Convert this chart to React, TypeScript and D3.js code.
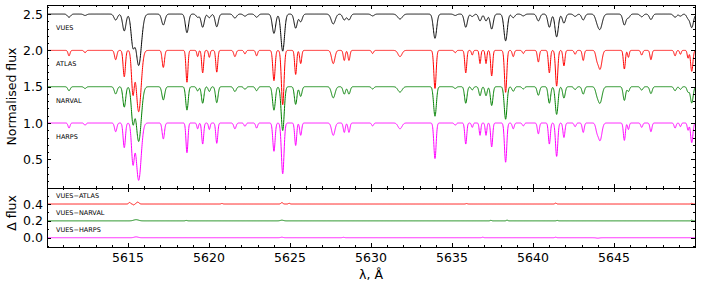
import React, { useRef, useEffect } from 'react';
import * as d3 from 'd3';

// wavelength axis
const LAMBDA_DOMAIN = [5610, 5650];
const LAMBDA_TICKS = [5615, 5620, 5625, 5630, 5635, 5640, 5645];
const FLUX_TICKS = [0.5, 1.0, 1.5, 2.0, 2.5];
const DIFF_TICKS = [0.0, 0.2, 0.4];

// absorption lines: [centre (Å), depth, sigma (Å)]
const LINES = [
  [5611.36, 0.07, 0.06], [5612.35, 0.03, 0.06], [5614.24, 0.12, 0.07],
  [5614.77, 0.34, 0.07], [5615.31, 0.56, 0.09], [5615.66, 0.79, 0.15],
  [5617.18, 0.22, 0.07], [5618.64, 0.41, 0.06], [5619.30, 0.08, 0.05],
  [5619.61, 0.29, 0.06], [5620.02, 0.09, 0.05], [5620.48, 0.28, 0.06],
  [5621.60, 0.08, 0.07], [5622.22, 0.045, 0.06], [5622.94, 0.07, 0.06],
  [5624.01, 0.39, 0.07], [5624.55, 0.70, 0.08], [5625.35, 0.31, 0.06],
  [5625.66, 0.17, 0.06], [5627.67, 0.17, 0.10], [5628.35, 0.13, 0.06],
  [5628.64, 0.13, 0.06], [5630.10, 0.04, 0.06], [5631.79, 0.08, 0.12],
  [5633.95, 0.49, 0.07], [5635.20, 0.03, 0.06], [5635.85, 0.29, 0.06],
  [5636.25, 0.06, 0.05], [5636.73, 0.17, 0.05], [5637.10, 0.17, 0.05],
  [5637.45, 0.33, 0.06], [5638.31, 0.54, 0.07], [5638.78, 0.08, 0.06],
  [5639.40, 0.04, 0.06], [5640.33, 0.15, 0.06], [5641.01, 0.29, 0.06],
  [5641.46, 0.46, 0.07], [5641.91, 0.20, 0.06], [5642.60, 0.05, 0.06],
  [5643.10, 0.13, 0.06], [5643.95, 0.10, 0.08], [5644.14, 0.24, 0.11],
  [5645.64, 0.24, 0.06], [5645.89, 0.09, 0.05], [5646.71, 0.06, 0.06],
  [5647.28, 0.12, 0.06], [5648.77, 0.07, 0.06], [5649.10, 0.05, 0.05],
  [5649.57, 0.10, 0.05], [5649.80, 0.27, 0.07],
];

// spectra: name, vertical offset, colour, instrumental sigma (Å), depth factor
const SPEC_NAMES = ['VUES', 'ATLAS', 'NARVAL', 'HARPS'];
const SPEC_OFFSETS = [2.5, 2.0, 1.5, 1.0];
const SPEC_COLORS = ['#000000', '#ff0000', '#008000', '#ff00ff'];
const SPEC_INSTR = [0.075, 0.0, 0.047, 0.0];
const SPEC_DEPTH = [1.0, 1.07, 1.0, 1.0];

// differences: name, offset, colour, bumps [centre, amplitude, sigma]
const DIFF_NAMES = ['VUES\u2212ATLAS', 'VUES\u2212NARVAL', 'VUES\u2212HARPS'];
const DIFF_OFFSETS = [0.4, 0.2, 0.0];
const DIFF_COLORS = ['#ff0000', '#008000', '#ff00ff'];
const DIFF_BUMPS = [
  [[5615.1, 0.018, 0.06], [5615.35, -0.01, 0.05], [5615.6, 0.022, 0.08], [5620.8, 0.006, 0.05],
   [5624.5, 0.016, 0.06], [5624.95, 0.008, 0.05], [5635.9, 0.005, 0.05], [5641.4, 0.01, 0.05], [5649.8, 0.008, 0.05]],
  [[5615.5, 0.014, 0.15], [5624.5, 0.008, 0.1], [5618.6, 0.005, 0.06], [5637.4, 0.006, 0.05],
   [5638.4, 0.008, 0.05], [5641.5, 0.005, 0.05], [5649.8, 0.008, 0.05]],
  [[5615.5, 0.01, 0.12], [5624.5, 0.006, 0.08], [5628.3, 0.005, 0.06], [5636.9, 0.006, 0.05],
   [5641.4, 0.006, 0.05], [5644.0, -0.005, 0.1]],
];

const W = 702;
const H = 288;
const LEFT = 47;
const RIGHT = 695;
const TOP1 = 5;
const BOT1 = 188;
const BOT2 = 247;
const FONT = 'DejaVu Sans, sans-serif';

const App = () => {
  const ref = useRef(null);

  useEffect(() => {
    const svg = d3.select(ref.current);
    svg.selectAll('*').remove();

    const x = d3.scaleLinear().domain(LAMBDA_DOMAIN).range([LEFT, RIGHT]);
    const yTop = d3.scaleLinear().domain([0.105, 2.625]).range([BOT1, TOP1]);
    const yBot = d3.scaleLinear().domain([-0.11, 0.59]).range([BOT2, BOT1]);

    const grid = d3.range(LAMBDA_DOMAIN[0], LAMBDA_DOMAIN[1] + 0.0001, 0.01);

    const clipTop = svg.append('clipPath').attr('id', 'clip-top');
    clipTop.append('rect').attr('x', LEFT).attr('y', TOP1).attr('width', RIGHT - LEFT).attr('height', BOT1 - TOP1);
    const clipBot = svg.append('clipPath').attr('id', 'clip-bot');
    clipBot.append('rect').attr('x', LEFT).attr('y', BOT1).attr('width', RIGHT - LEFT).attr('height', BOT2 - BOT1);

    // spectra
    const gTop = svg.append('g').attr('clip-path', 'url(#clip-top)');
    SPEC_NAMES.forEach((name, i) => {
      const flux = l => {
        let f = 1;
        LINES.forEach(([c, d, s]) => {
          const so = Math.sqrt(s * s + SPEC_INSTR[i] * SPEC_INSTR[i]);
          const dd = Math.min(0.97, d * SPEC_DEPTH[i] * s / so);
          const z = (l - c) / so;
          if (Math.abs(z) < 8) f *= 1 - dd * Math.exp(-0.5 * z * z);
        });
        return f - 1 + SPEC_OFFSETS[i];
      };
      const line = d3.line().x(d => x(d)).y(d => yTop(flux(d)));
      gTop.append('path')
        .datum(grid)
        .attr('fill', 'none')
        .attr('stroke', SPEC_COLORS[i])
        .attr('stroke-width', 1)
        .attr('stroke-linejoin', 'round')
        .attr('d', line);

      svg.append('text')
        .attr('x', 56)
        .attr('y', yTop(SPEC_OFFSETS[i] - 0.19))
        .attr('dy', '0.35em')
        .attr('font-family', FONT)
        .attr('font-size', 6.5)
        .text(name);
    });

    // differences
    const gBot = svg.append('g').attr('clip-path', 'url(#clip-bot)');
    DIFF_NAMES.forEach((name, i) => {
      const diff = l => {
        let v = DIFF_OFFSETS[i];
        DIFF_BUMPS[i].forEach(([c, a, s]) => {
          const z = (l - c) / s;
          if (Math.abs(z) < 8) v += a * Math.exp(-0.5 * z * z);
        });
        return v;
      };
      const line = d3.line().x(d => x(d)).y(d => yBot(diff(d)));
      gBot.append('path')
        .datum(grid)
        .attr('fill', 'none')
        .attr('stroke', DIFF_COLORS[i])
        .attr('stroke-width', 1)
        .attr('d', line);

      svg.append('text')
        .attr('x', 56)
        .attr('y', yBot(DIFF_OFFSETS[i] + 0.1))
        .attr('dy', '0.35em')
        .attr('font-family', FONT)
        .attr('font-size', 6.5)
        .text(name);
    });

    // frames
    [[TOP1, BOT1], [BOT1, BOT2]].forEach(([t, b]) => {
      svg.append('rect')
        .attr('x', LEFT + 0.5).attr('y', t + 0.5)
        .attr('width', RIGHT - LEFT).attr('height', b - t)
        .attr('fill', 'none').attr('stroke', '#000').attr('stroke-width', 1);
    });

    const tick = (x1, y1, x2, y2) => svg.append('line')
      .attr('x1', x1).attr('y1', y1).attr('x2', x2).attr('y2', y2)
      .attr('stroke', '#000').attr('stroke-width', 1);

    // x ticks on both panels, inward, all sides
    const xMinor = d3.range(5611, 5650, 1);
    [[TOP1, BOT1], [BOT1, BOT2]].forEach(([t, b]) => {
      xMinor.forEach(v => {
        const len = LAMBDA_TICKS.includes(v) ? 4 : 2;
        const px = Math.round(x(v)) + 0.5;
        tick(px, t, px, t + len);
        tick(px, b, px, b - len);
      });
    });
    LAMBDA_TICKS.forEach(v => {
      svg.append('text')
        .attr('x', x(v)).attr('y', 262)
        .attr('text-anchor', 'middle')
        .attr('font-family', FONT).attr('font-size', 12.5)
        .text(v);
    });

    // y ticks, top panel
    d3.range(2, 27).map(k => k / 10).forEach(v => {
      const major = FLUX_TICKS.some(t => Math.abs(t - v) < 1e-6);
      const len = major ? 4 : 2;
      const py = Math.round(yTop(v)) + 0.5;
      tick(LEFT, py, LEFT + len, py);
      tick(RIGHT, py, RIGHT - len, py);
    });
    FLUX_TICKS.forEach(v => {
      svg.append('text')
        .attr('x', 43).attr('y', yTop(v))
        .attr('dy', '0.36em')
        .attr('text-anchor', 'end')
        .attr('font-family', FONT).attr('font-size', 12.5)
        .text(v.toFixed(1));
    });

    // y ticks, bottom panel
    d3.range(-1, 6).map(k => k / 10).forEach(v => {
      const major = DIFF_TICKS.some(t => Math.abs(t - v) < 1e-6);
      const len = major ? 4 : 2;
      const py = Math.round(yBot(v)) + 0.5;
      tick(LEFT, py, LEFT + len, py);
      tick(RIGHT, py, RIGHT - len, py);
    });
    DIFF_TICKS.forEach(v => {
      svg.append('text')
        .attr('x', 43).attr('y', yBot(v))
        .attr('dy', '0.36em')
        .attr('text-anchor', 'end')
        .attr('font-family', FONT).attr('font-size', 12.5)
        .text(v.toFixed(1));
    });

    // axis titles
    svg.append('text')
      .attr('transform', `translate(16,${(TOP1 + BOT1) / 2}) rotate(-90)`)
      .attr('text-anchor', 'middle')
      .attr('font-family', FONT).attr('font-size', 12.5)
      .text('Normalised flux');
    svg.append('text')
      .attr('transform', `translate(16,213) rotate(-90)`)
      .attr('text-anchor', 'middle')
      .attr('font-family', FONT).attr('font-size', 12.5)
      .text('\u0394 flux');
    svg.append('text')
      .attr('x', (LEFT + RIGHT) / 2).attr('y', 279)
      .attr('text-anchor', 'middle')
      .attr('font-family', FONT).attr('font-size', 12.5)
      .text('\u03bb, \u00c5');
  }, []);

  return (
    <svg
      ref={ref}
      width={W}
      height={H}
      style={{ position: 'absolute', left: 0, top: 0, background: '#fff' }}
    />
  );
};

export default App;
